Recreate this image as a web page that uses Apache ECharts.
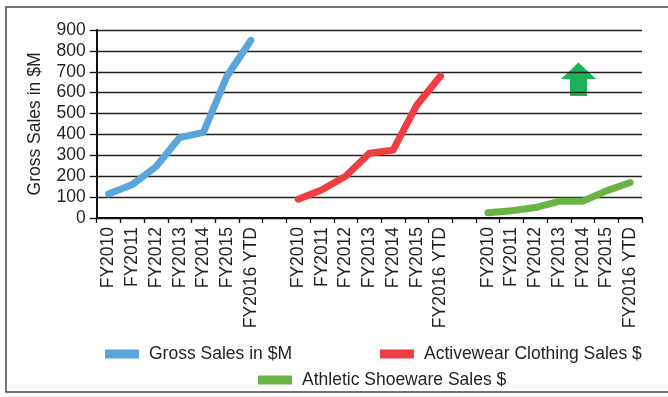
<!DOCTYPE html>
<html>
<head>
<meta charset="utf-8">
<script src="https://cdn.jsdelivr.net/npm/echarts@6/dist/echarts.min.js"></script>
<style>
html,body{margin:0;padding:0;background:#fff;}
#chart{width:668px;height:397px;}
</style>
</head>
<body>
<div id="chart"></div>
<script>
var years = ['FY2010','FY2011','FY2012','FY2013','FY2014','FY2015','FY2016 YTD'];
var grossSales = [115, 160, 245, 385, 410, 680, 850];
var activewear = [90, 135, 200, 310, 325, 540, 680];
var shoeware = [25, 35, 50, 80, 80, 130, 170];
var seriesNames = ['Gross Sales in $M', 'Activewear Clothing Sales $', 'Athletic Shoeware Sales $'];
var colors = ['#5aa6dc', '#ef3e42', '#6ab446'];
var yTicks = [0, 100, 200, 300, 400, 500, 600, 700, 800, 900];

// category axis: three groups separated by one empty slot
var categories = years.concat(['']).concat(years).concat(['']).concat(years);
function placed(values, groupIndex) {
  var arr = [];
  for (var i = 0; i < categories.length; i++) arr.push(null);
  var start = groupIndex * (years.length + 1);
  for (var j = 0; j < values.length; j++) arr[start + j] = values[j];
  return arr;
}
var seriesValues = [grossSales, activewear, shoeware];

var font = 'Liberation Sans, Arial, sans-serif';
var txt = '#231f20';
var chart = echarts.init(document.getElementById('chart'));
chart.setOption({
  animation: false,
  textStyle: {fontFamily: font, color: txt},
  grid: {left: 96.7, right: 26, top: 30, bottom: 179, containLabel: false},
  xAxis: {
    type: 'category',
    data: categories,
    boundaryGap: true,
    axisLine: {lineStyle: {color: '#111', width: 2}},
    axisTick: {show: true, length: 5, interval: 0, lineStyle: {color: '#111', width: 1.3}},
    axisLabel: {interval: 0, rotate: 90, fontSize: 17.5, color: txt, fontFamily: font, margin: 9},
    splitLine: {show: false}
  },
  yAxis: {
    type: 'value',
    min: yTicks[0],
    max: yTicks[yTicks.length - 1],
    interval: 100,
    name: 'Gross Sales in $M',
    nameLocation: 'middle',
    nameGap: 53,
    nameRotate: 90,
    nameTextStyle: {fontSize: 17.5, color: txt, fontFamily: font},
    axisLine: {show: true, lineStyle: {color: '#111', width: 2}},
    axisTick: {show: true, length: 7, lineStyle: {color: '#111', width: 1.3}},
    axisLabel: {fontSize: 17.5, color: txt, fontFamily: font, margin: 11},
    splitLine: {show: true, lineStyle: {color: '#222', width: 1.4}}
  },
  legend: [
    {
      data: [seriesNames[0], seriesNames[1]],
      left: 105, top: 345, padding: 0,
      itemGap: 88, itemWidth: 34, itemHeight: 9, icon: 'rect',
      textStyle: {fontSize: 17.5, color: txt, fontFamily: font, padding: [0, 0, 0, 5]}
    },
    {
      data: [seriesNames[2]],
      left: 258, top: 371, padding: 0,
      itemWidth: 34, itemHeight: 9, icon: 'rect',
      textStyle: {fontSize: 17.5, color: txt, fontFamily: font, padding: [0, 0, 0, 5]}
    }
  ],
  series: seriesValues.map(function (vals, k) {
    return {
      name: seriesNames[k],
      type: 'line',
      data: placed(vals, k),
      showSymbol: false,
      connectNulls: false,
      color: colors[k],
      itemStyle: {color: colors[k]},
      lineStyle: {color: colors[k], width: 7, cap: 'round', join: 'round'}
    };
  }),
  graphic: [
    {
      type: 'rect', silent: true,
      shape: {x: 6, y: 7, width: 670, height: 385},
      style: {fill: 'none', stroke: '#444', lineWidth: 1.5}
    },
    {
      type: 'polygon', silent: true,
      shape: {points: [[578.5, 62.5], [596, 79], [587, 79], [587, 96], [570, 96], [570, 79], [561, 79]]},
      style: {fill: '#1eb256'}
    }
  ]
});
</script>
</body>
</html>
